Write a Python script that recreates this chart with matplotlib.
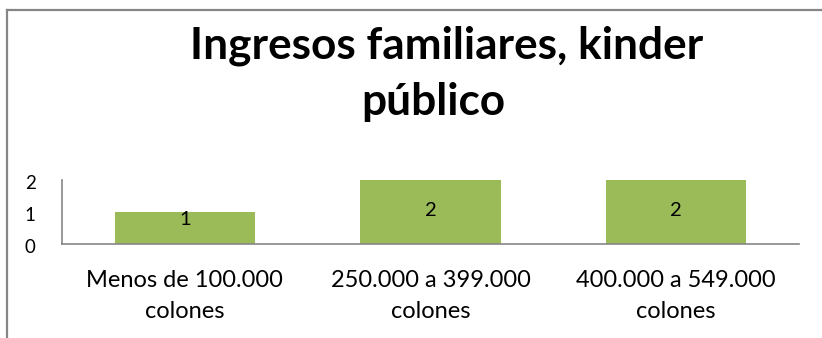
import matplotlib
matplotlib.use("Agg")
import matplotlib.pyplot as plt
from matplotlib.lines import Line2D
from matplotlib.transforms import ScaledTranslation

categories = ["Menos de 100.000\ncolones", "250.000 a 399.000\ncolones", "400.000 a 549.000\ncolones"]
values = [1, 2, 2]
y_ticks = [0, 1, 2]
title_lines = ["Ingresos familiares, kinder", "público"]

W, H = 822, 338
PX = 72 / 100  # points per pixel at 100 dpi
fig = plt.figure(figsize=(W / 100, H / 100), dpi=100)
plt.rcParams['font.family'] = ['Lato', 'DejaVu Sans']

# chart area border (left and top edges)
bx, by = 6.5 / W, 1 - 9.5 / H
for xs, ys in [([bx, bx], [0, by]), ([bx, 1], [by, by])]:
    fig.add_artist(Line2D(xs, ys, transform=fig.transFigure,
                          color="#868686", linewidth=1.6))

ax = fig.add_axes([62 / W, (H - 244) / H, (799 - 62) / W, (244 - 180) / H])
x = list(range(len(categories)))
bars = ax.bar(x, values, width=0.57, color="#9BBB59")
ax.set_xlim(-0.5, len(categories) - 0.5)
ax.set_ylim(0, 2)
ax.set_yticks(y_ticks)
ax.set_yticklabels([str(t) for t in y_ticks], fontsize=13.5)
ax.tick_params(axis="y", length=0, pad=19)
shift = ScaledTranslation(0, -2 / 100, fig.dpi_scale_trans)
for lbl in ax.get_yticklabels():
    lbl.set_transform(lbl.get_transform() + shift)
ax.set_xticks(x)
ax.set_xticklabels([""] * len(x))
ax.tick_params(axis="x", length=0)
for s in ["top", "right"]:
    ax.spines[s].set_visible(False)
for s in ["left", "bottom"]:
    ax.spines[s].set_color("#868686")
    ax.spines[s].set_linewidth(1.2)

# category labels, one text per line below the axis
for xi, label in zip(x, categories):
    for i, line in enumerate(label.split("\n")):
        ax.annotate(line, xy=(xi, 0), xycoords=("data", "axes fraction"),
                    xytext=(0, -(43 + 31 * i) * PX), textcoords="offset points",
                    ha="center", va="baseline", fontsize=17, annotation_clip=False)

# value labels inside the bars, kept clear of the axis line
for b, v in zip(bars, values):
    ax.text(b.get_x() + b.get_width() / 2, max(v / 2 - 0.14, 0.59), str(v),
            ha="center", va="baseline", fontsize=14.5, color="black")

# two-line title
fig.text(446.5 / W, 1 - 59 / H, title_lines[0], ha="center", va="baseline",
         fontsize=31.8, fontweight="bold")
fig.text(433.5 / W, 1 - 115 / H, title_lines[1], ha="center", va="baseline",
         fontsize=31.8, fontweight="bold")

fig.savefig("out.png", dpi=100)
